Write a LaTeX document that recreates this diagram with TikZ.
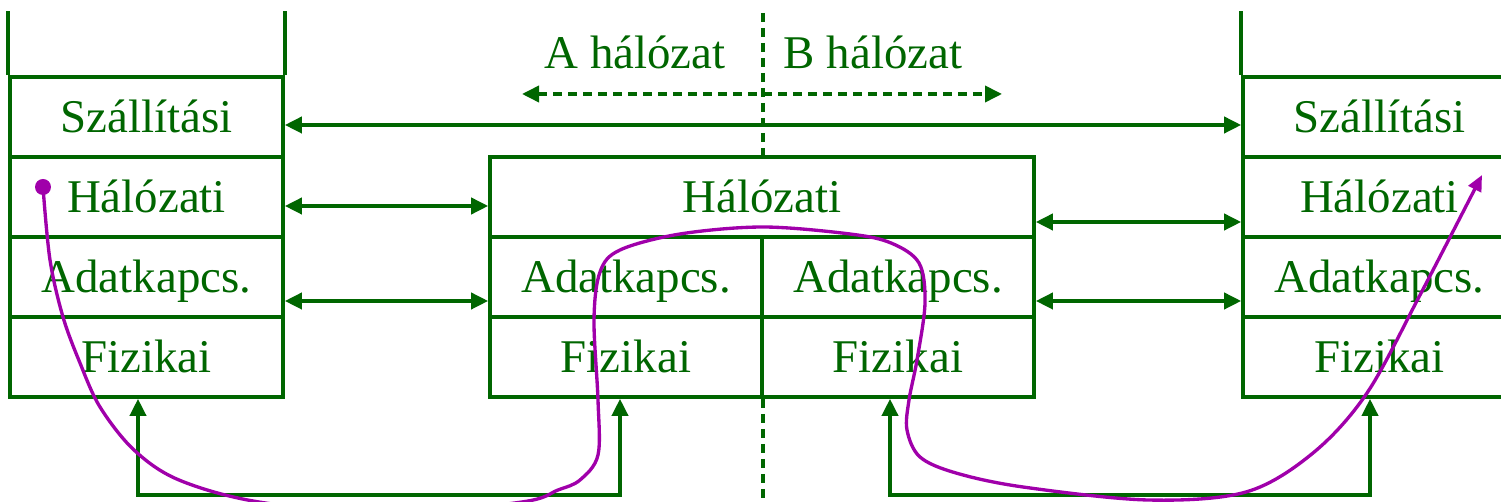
\documentclass[tikz,border=0pt]{standalone}
\usepackage{fontspec}
\setmainfont{Liberation Serif}
\usetikzlibrary{arrows.meta,positioning}
\definecolor{netgreen}{RGB}{0,102,0}
\definecolor{trailpurple}{RGB}{160,0,170}

\begin{document}
\begin{tikzpicture}
  [
  x=0.02cm, y=-0.02cm,
  font=\fontsize{26.7}{30}\selectfont, color=netgreen, line width=2.1pt,
  layer/.style={rectangle, minimum height=16mm, minimum width=54.6mm, draw=netgreen, inner sep=0pt, text height=18.2pt, text depth=0pt},
  widelayer/.style={layer, minimum width=108.8mm},
  halflayer/.style={layer, minimum width=54.4mm},
  link/.style={{Triangle[length=3.4mm,width=3.2mm]}-{Triangle[length=3.4mm,width=3.2mm]}},
  border/.style={dash pattern=on 1.8mm off 1.2mm},
  trail/.style={trailpurple, line width=1.9pt, -{Triangle[length=3.2mm,width=2.8mm]}}
  ]

\clip (0,0) rectangle (1501,502);

% end systems
\foreach \name/\txt [count=\i] in {sz/Szállítási, ha/Hálózati, ad/Adatkapcs., fi/Fizikai} {
  \node[layer] (l\name) at (146.5,37+80*\i) {\txt};
  \node[layer] (r\name) at (1379.5,37+80*\i) {\txt};
}
\draw (lsz.north west) -- ++(0,-64);
\draw (lsz.north east) -- ++(0,-64);
\draw (rsz.north west) -- ++(0,-64);

% router
\node[widelayer] (mha) at (762,197) {Hálózati};
\node[halflayer] (aad) at (626,277) {Adatkapcs.};
\node[halflayer] (afi) at (626,357) {Fizikai};
\node[halflayer] (bad) at (898,277) {Adatkapcs.};
\node[halflayer] (bfi) at (898,357) {Fizikai};

% network border
\coordinate (divtop) at (763,13);
\coordinate (divbot) at (763,502);
\draw[border] (divtop) -- (divtop |- mha.north);
\draw[border] (divbot |- afi.south) -- (divbot);

\node[anchor=base] (alab) at (635,69) {A hálózat};
\node[anchor=base] (blab) at (873,69) {B hálózat};
\coordinate (aw) at (522,94);
\coordinate (be) at (1002,94);
\draw[border,link] (aw) -- (be);

% peer links
\draw[link] ([yshift=-1.6mm]lsz.east) -- ([yshift=-1.6mm]rsz.west);
\draw[link] ([yshift=-1.8mm]lha.east) -- ([yshift=-1.8mm]mha.west);
\draw[link] ([yshift=-5mm]mha.east) -- ([yshift=-5mm]rha.west);
\draw[link] ([yshift=-4.8mm]lad.east) -- ([yshift=-4.8mm]aad.west);
\draw[link] ([yshift=-4.8mm]bad.east) -- ([yshift=-4.8mm]rad.west);

% physical media
\draw[link] ([xshift=-1.7mm]lfi.south) -- ++(0,96) -| ([xshift=-1.2mm]afi.south);
\draw[link] ([xshift=-1.6mm]bfi.south) -- ++(0,96) -| ([xshift=-1.9mm]rfi.south);

% path of the packet
\coordinate (src) at (43,187);
\coordinate (dst) at (1482,175);
\fill[trailpurple] (src) circle[radius=1.6mm];
\draw[trail] plot[smooth, tension=0.55] coordinates {(src) (50,260) (63,317) (80,363) (100,407) (134,450) (179,480) (259,502) (390,514) (522,502) (558,490) (580,480) (598,455) (598,400) (594,320) (600,272) (620,250) (680,234) (763,227) (850,234) (891,243) (919,263) (925,303) (917,360) (909,400) (907,430) (920,457) (956,473) (1023,487) (1148,500) (1246,492) (1313,453) (1367,393) (1420,295) (dst)};

\end{tikzpicture}
\end{document}
